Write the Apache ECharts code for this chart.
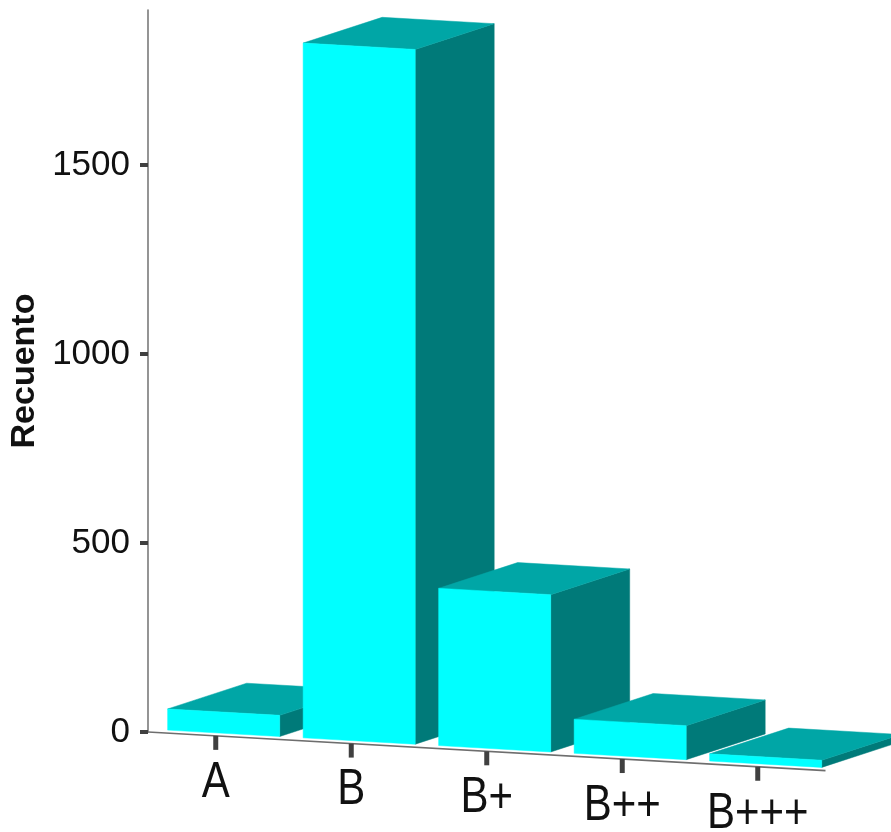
<!DOCTYPE html>
<html>
<head>
<meta charset="utf-8">
<script src="https://cdn.jsdelivr.net/npm/echarts@6/dist/echarts.min.js"></script>
<style>
  html, body { margin: 0; padding: 0; background: #ffffff; }
  #chart { width: 891px; height: 832px; }
</style>
</head>
<body>
<div id="chart"></div>
<script>
// ---- data ----
const categories = ['A', 'B', 'B+', 'B++', 'B+++'];
const counts = [56, 1838, 416, 90, 19];
const yTickValues = [0, 500, 1000, 1500];
const yAxisTitle = 'Recuento';

// ---- style / geometry ----
const SANS = "'Liberation Sans', Arial, sans-serif";
const SLOPE = 0.057;          // slant of the floor line (px per px)
const FRONT_L = 0.355;        // front face left edge, fraction of band from centre
const FRONT_R = 0.472;        // front face right edge
const DEPTH_X = 0.583;        // depth vector, fraction of band
const DEPTH_Y = -0.19;
const BASE_GAP = 3;           // bar floor sits this far above the axis line
const COL_FRONT = '#00ffff';
const COL_TOP = '#00a6a6';
const COL_SIDE = '#007a79';

const chart = echarts.init(document.getElementById('chart'), null, { renderer: 'canvas' });

function renderBar(params, api) {
  const idx = api.value(0);
  const v = api.value(1);
  const cs = params.coordSys;
  const base = api.coord([idx, 0]);
  const top = api.coord([idx, v]);
  const h = base[1] - top[1];
  const band = api.size([1, 0])[0];
  const cx = base[0];
  const xl = cx - band * FRONT_L;
  const xr = cx + band * FRONT_R;
  const dx = band * DEPTH_X;
  const dy = band * DEPTH_Y;
  const yb = x => base[1] - BASE_GAP + SLOPE * (x - cs.x);
  const ya = x => base[1] + SLOPE * (x - cs.x);
  const yl = yb(xl), yr = yb(xr);
  return {
    type: 'group',
    children: [
      {
        type: 'line',
        shape: { x1: cx, y1: ya(cx), x2: cx, y2: ya(cx) + 14 },
        style: { stroke: '#404040', lineWidth: 5 }
      },
      {
        type: 'text',
        x: cx,
        y: ya(cx) + 47,
        scaleX: 0.84,
        style: {
          text: categories[idx],
          fontFamily: SANS, fontSize: 50, fill: '#111',
          align: 'center', verticalAlign: 'middle'
        }
      },
      {
        type: 'polygon',
        shape: { points: [[xr, yr], [xr + dx, yr + dy], [xr + dx, yr - h + dy], [xr, yr - h]] },
        style: { fill: COL_SIDE, stroke: COL_SIDE, lineWidth: 0.5 }
      },
      {
        type: 'polygon',
        shape: { points: [[xl, yl - h], [xr, yr - h], [xr + dx, yr - h + dy], [xl + dx, yl - h + dy]] },
        style: { fill: COL_TOP, stroke: COL_TOP, lineWidth: 0.5 }
      },
      {
        type: 'polygon',
        shape: { points: [[xl, yl], [xr, yr], [xr, yr - h], [xl, yl - h]] },
        style: { fill: COL_FRONT, stroke: COL_FRONT, lineWidth: 0.5 }
      }
    ]
  };
}

function renderFloor(params, api) {
  const cs = params.coordSys;
  const y0 = cs.y + cs.height;
  return {
    type: 'line',
    shape: { x1: cs.x, y1: y0, x2: cs.x + cs.width, y2: y0 + SLOPE * cs.width },
    style: { stroke: '#6e6e6e', lineWidth: 1.6 }
  };
}

chart.setOption({
  animation: false,
  backgroundColor: '#ffffff',
  grid: { left: 148, right: 65.5, top: 10, bottom: 100, containLabel: false, outerBoundsMode: 'none' },
  xAxis: {
    type: 'category',
    data: categories,
    boundaryGap: true,
    axisLine: { show: false },
    axisTick: { show: false },
    axisLabel: { show: false },
    splitLine: { show: false }
  },
  yAxis: {
    type: 'value',
    min: 0,
    max: 1910,
    interval: 500,
    name: yAxisTitle,
    nameLocation: 'middle',
    nameRotate: 90,
    nameGap: 105,
    nameTextStyle: { fontFamily: SANS, fontWeight: 'bold', fontSize: 34, color: '#111' },
    axisLine: { show: true, lineStyle: { color: '#7a7a7a', width: 1.6 } },
    axisTick: { show: true, inside: false, length: 8, lineStyle: { color: '#404040', width: 4 }, customValues: yTickValues },
    axisLabel: {
      margin: 18, fontFamily: SANS, fontSize: 35, color: '#111',
      customValues: yTickValues,
      formatter: v => String(v)
    },
    splitLine: { show: false }
  },
  series: [
    {
      type: 'custom',
      renderItem: renderFloor,
      data: [[0, 0]],
      clip: false,
      silent: true,
      z: 1
    },
    {
      type: 'custom',
      renderItem: renderBar,
      data: counts.map((c, i) => [i, c]),
      clip: false,
      z: 2
    }
  ]
});
</script>
</body>
</html>
